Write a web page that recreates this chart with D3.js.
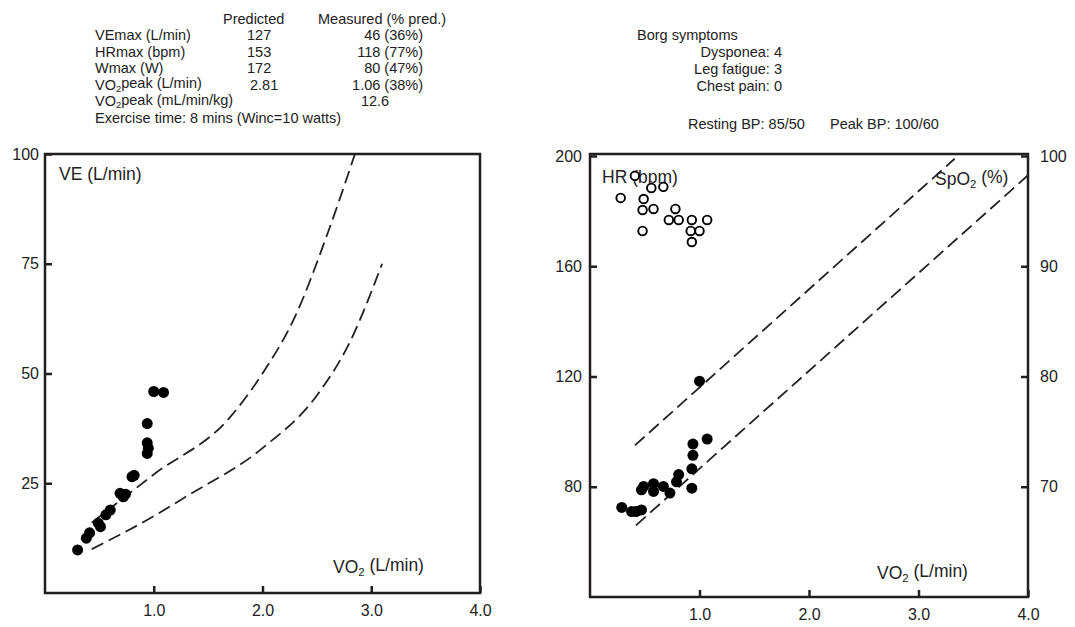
<!DOCTYPE html>
<meta charset="utf-8">
<style>
    body { margin: 0; background: #fff; }
    svg { font-family: "Liberation Sans", Arial, sans-serif; fill: #222; }
    .frame { fill: none; stroke: #231f20; stroke-width: 2.5; }
    .tick line { stroke: #231f20; stroke-width: 2.5; }
    .tick text { font-size: 16px; fill: #222; }
    .head { font-size: 14.5px; }
    .title { font-size: 17.5px; }
    .pred { fill: none; stroke: #222; stroke-width: 1.8; stroke-dasharray: 13,6; }
</style>
<body>
<svg width="1075" height="627"></svg>
</body>
<script src="https://cdn.jsdelivr.net/npm/d3@7"></script>
<script>

    // header table
    var rowLabels = ["VEmax (L/min)", "HRmax (bpm)", "Wmax (W)", "VO2peak (L/min)", "VO2peak (mL/min/kg)"];
    var predicted = ["127", "153", "172", "2.81", ""];
    var measured = ["46 (36%)", "118 (77%)", "80 (47%)", "1.06 (38%)", "12.6"];
    var borgLabels = ["Dysponea: 4", "Leg fatigue: 3", "Chest pain: 0"];

    // left panel: VE vs VO2
    var veVO2 = [0.30, 0.38, 0.41, 0.49, 0.51, 0.56, 0.60, 0.69, 0.72, 0.74, 0.80, 0.82, 0.94, 0.95, 0.94, 0.94, 1.00, 1.09];
    var veVal = [9.8, 12.5, 13.7, 15.9, 15.1, 17.8, 18.9, 22.7, 21.9, 22.5, 26.5, 26.8, 31.8, 33.0, 34.2, 38.6, 45.9, 45.7];
    var veUpperX = [0.43, 1.0, 1.7, 2.0, 2.3, 2.6, 2.85];
    var veUpperY = [16, 27, 40, 50, 63, 82, 100];
    var veLowerX = [0.43, 1.0, 1.3, 2.0, 2.5, 2.8, 3.1];
    var veLowerY = [10, 17.5, 22, 33, 45, 57, 75];

    // right panel: HR (filled) and SpO2 (open) vs VO2
    var hrVO2 = [0.29, 0.38, 0.42, 0.47, 0.49, 0.47, 0.58, 0.58, 0.67, 0.73, 0.81, 0.79, 0.93, 0.93, 0.94, 0.94, 1.07, 1.00];
    var hrVal = [72.5, 71.0, 71.0, 71.6, 80.1, 78.9, 81.1, 78.3, 80.1, 77.7, 84.4, 81.8, 79.5, 86.5, 91.4, 95.5, 97.3, 118.3];
    var spVO2 = [0.28, 0.41, 0.56, 0.67, 0.49, 0.48, 0.58, 0.78, 0.72, 0.81, 0.93, 1.07, 0.92, 1.00, 0.93, 0.48];
    var spVal = [96.2, 98.2, 97.1, 97.2, 96.1, 95.1, 95.2, 95.2, 94.2, 94.2, 94.2, 94.2, 93.2, 93.2, 92.2, 93.2];
    var hrUpperX = [0.41, 3.33];
    var hrUpperY = [95, 199];
    var hrLowerX = [0.42, 4.0];
    var hrLowerY = [66, 193];

    var svg = d3.select("svg");

    // text with a subscript 2 after "VO" / "SpO"
    function subText(sel, str) {
        var i = str.indexOf("O2");
        if (i < 0) { sel.text(str); return; }
        sel.append("tspan").text(str.slice(0, i + 1));
        sel.append("tspan").text("2").attr("font-size", "0.65em").attr("dy", "0.25em");
        sel.append("tspan").text(str.slice(i + 2)).attr("dy", "-0.25em");
    }

    // ---- header ----
    var head = svg.append("g").attr("class", "head");
    var rowY = function (i) { return 40 + i * 16.5; };
    head.append("text").attr("x", 223).attr("y", rowY(-1)).text("Predicted");
    head.append("text").attr("x", 318).attr("y", rowY(-1)).text("Measured (% pred.)");
    rowLabels.forEach(function (d, i) {
        head.append("text").attr("x", 95).attr("y", rowY(i)).call(subText, d);
        head.append("text").attr("x", i === 3 ? 250 : 247).attr("y", rowY(i)).text(predicted[i]);
        if (i === rowLabels.length - 1) {
            head.append("text").attr("x", 375).attr("y", rowY(i)).attr("text-anchor", "middle").text(measured[i]);
        } else {
            head.append("text").attr("x", 423).attr("y", rowY(i)).attr("text-anchor", "end").text(measured[i]);
        }
    });
    head.append("text").attr("x", 95).attr("y", rowY(5)).text("Exercise time: 8 mins (Winc=10 watts)");

    head.append("text").attr("x", 637).attr("y", 40).text("Borg symptoms");
    borgLabels.forEach(function (d, i) {
        head.append("text").attr("x", 782).attr("y", 57 + i * 17).attr("text-anchor", "end").text(d);
    });
    head.append("text").attr("x", 688).attr("y", 129).text("Resting BP: 85/50");
    head.append("text").attr("x", 830).attr("y", 129).text("Peak BP: 100/60");

    // ---- left panel ----
    var xL = d3.scaleLinear().domain([0, 4]).range([45, 480]);
    var yL = d3.scaleLinear().domain([0, 100]).range([593, 154]);

    var gL = svg.append("g");
    gL.append("g")
        .attr("transform", "translate(0," + yL(0) + ")")
        .call(d3.axisBottom(xL).tickValues([1, 2, 3, 4]).tickFormat(d3.format(".1f")).tickSize(-7).tickPadding(12))
        .call(function (g) { g.select(".domain").remove(); });
    gL.append("g")
        .attr("transform", "translate(" + xL(0) + ",0)")
        .call(d3.axisLeft(yL).tickValues([25, 50, 75, 100]).tickSize(-7).tickPadding(6))
        .call(function (g) { g.select(".domain").remove(); });
    gL.append("rect").attr("class", "frame")
        .attr("x", xL(0)).attr("y", yL(100))
        .attr("width", xL(4) - xL(0)).attr("height", yL(0) - yL(100));

    var lineL = d3.line().curve(d3.curveMonotoneX)
        .x(function (d) { return xL(d[0]); })
        .y(function (d) { return yL(d[1]); });
    gL.append("path").attr("class", "pred").attr("d", lineL(d3.zip(veUpperX, veUpperY)));
    gL.append("path").attr("class", "pred").attr("d", lineL(d3.zip(veLowerX, veLowerY)));

    gL.selectAll("circle").data(d3.zip(veVO2, veVal)).enter().append("circle")
        .attr("cx", function (d) { return xL(d[0]); })
        .attr("cy", function (d) { return yL(d[1]); })
        .attr("r", 5.5).attr("fill", "#000");

    gL.append("text").attr("class", "title").attr("x", 59).attr("y", 180).text("VE (L/min)");
    gL.append("text").attr("class", "title").attr("x", 333).attr("y", 573).call(subText, "VO2 (L/min)");

    // ---- right panel ----
    var xR = d3.scaleLinear().domain([0, 4]).range([590, 1028]);
    var yHR = d3.scaleLinear().domain([40, 200]).range([597, 156]);
    var ySp = d3.scaleLinear().domain([60, 100]).range([597, 156]);

    var gR = svg.append("g");
    gR.append("g")
        .attr("transform", "translate(0," + yHR(40) + ")")
        .call(d3.axisBottom(xR).tickValues([1, 2, 3, 4]).tickFormat(d3.format(".1f")).tickSize(-7).tickPadding(12))
        .call(function (g) { g.select(".domain").remove(); });
    gR.append("g")
        .attr("transform", "translate(" + xR(0) + ",0)")
        .call(d3.axisLeft(yHR).tickValues([80, 120, 160, 200]).tickSize(-7).tickPadding(8))
        .call(function (g) { g.select(".domain").remove(); });
    gR.append("g")
        .attr("transform", "translate(" + xR(4) + ",0)")
        .call(d3.axisRight(ySp).tickValues([70, 80, 90, 100]).tickSize(-7).tickPadding(12))
        .call(function (g) { g.select(".domain").remove(); });
    gR.append("rect").attr("class", "frame")
        .attr("x", xR(0)).attr("y", yHR(200) - 2)
        .attr("width", xR(4) - xR(0)).attr("height", yHR(40) - yHR(200) + 2);

    var lineR = d3.line()
        .x(function (d) { return xR(d[0]); })
        .y(function (d) { return yHR(d[1]); });
    gR.append("path").attr("class", "pred").attr("d", lineR(d3.zip(hrUpperX, hrUpperY)));
    gR.append("path").attr("class", "pred").attr("d", lineR(d3.zip(hrLowerX, hrLowerY)));

    gR.selectAll("circle.hr").data(d3.zip(hrVO2, hrVal)).enter().append("circle")
        .attr("class", "hr")
        .attr("cx", function (d) { return xR(d[0]); })
        .attr("cy", function (d) { return yHR(d[1]); })
        .attr("r", 5.5).attr("fill", "#000");

    gR.append("text").attr("class", "title").attr("x", 602).attr("y", 183).text("HR (bpm)");
    gR.append("text").attr("class", "title").attr("x", 935).attr("y", 185).call(subText, "SpO2 (%)");
    gR.append("text").attr("class", "title").attr("x", 877).attr("y", 579).call(subText, "VO2 (L/min)");

    gR.selectAll("circle.sp").data(d3.zip(spVO2, spVal)).enter().append("circle")
        .attr("class", "sp")
        .attr("cx", function (d) { return xR(d[0]); })
        .attr("cy", function (d) { return ySp(d[1]); })
        .attr("r", 4.3).attr("fill", "#fff").attr("stroke", "#000").attr("stroke-width", 1.9);

</script>
